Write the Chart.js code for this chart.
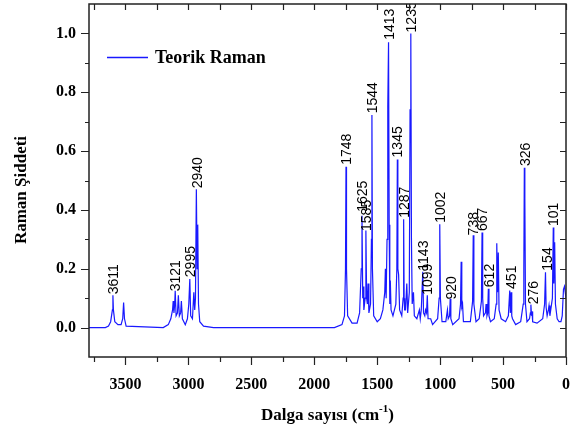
<!DOCTYPE html>
<html>
<head>
<meta charset="utf-8">
<script src="https://cdn.jsdelivr.net/npm/chart.js@4/dist/chart.umd.min.js"></script>
<style>
    html, body { margin: 0; padding: 0; background: #fff; }
    #spectrum { display: block; }
</style>
</head>
<body>
<canvas id="spectrum" width="572" height="427"></canvas>
<script>
    // Spectrum: wavenumber (cm-1) and relative Raman intensity.
    const wavenumber = [
        3790, 3660, 3635, 3618, 3604, 3600, 3596, 3585, 3560, 3535, 3522, 3515, 3508, 3495,
        3200, 3160, 3140, 3126, 3121, 3115, 3109, 3105, 3098, 3087, 3080, 3072, 3062, 3056, 3048, 3025,
        3008, 2997, 2989, 2982, 2968, 2957, 2950, 2944, 2937, 2931, 2926, 2920, 2910, 2880, 2800,
        1840, 1780, 1760, 1752, 1748, 1744, 1735, 1700,
        1660, 1640, 1627, 1621, 1615, 1611, 1606, 1596, 1590, 1584, 1578, 1573, 1566, 1553, 1546, 1542, 1538, 1528,
        1500, 1475, 1455, 1440, 1435, 1429, 1422, 1416, 1410, 1405, 1400, 1396, 1390, 1375,
        1352, 1344, 1340, 1336, 1330, 1322, 1305, 1294, 1290, 1286, 1282, 1275, 1265, 1258,
        1245, 1239, 1233, 1228, 1222, 1212, 1205, 1185, 1165, 1158, 1150, 1138, 1132, 1122, 1116,
        1108, 1102, 1096, 1075, 1060,
        1020, 1008, 1003, 998, 985, 955, 942, 936, 925, 920, 915, 900,
        850, 838, 833, 828, 822, 815, 760, 742, 737, 732, 715, 690, 672, 667, 662, 655,
        640, 635, 628, 622, 617, 612, 600, 570, 555, 550, 544, 538, 532, 515,
        480, 458, 447, 442, 436, 431, 425, 400, 360, 340, 335, 331, 327, 322, 310,
        290, 283, 279, 274, 270, 265, 230, 185, 170, 163, 158, 150, 140, 135, 128,
        108, 101, 97, 90, 84, 70, 55, 40, 30, 20, 12, 0
    ];
    const intensity = [
        0.0, 0.0, 0.005, 0.02, 0.06, 0.11, 0.06, 0.02, 0.01, 0.01, 0.03, 0.085, 0.03, 0.005,
        0.0, 0.01, 0.03, 0.06, 0.09, 0.05, 0.08, 0.125, 0.04, 0.05, 0.11, 0.04, 0.05, 0.09, 0.03, 0.01,
        0.03, 0.08, 0.165, 0.04, 0.03, 0.12, 0.06, 0.1, 0.47, 0.2, 0.35, 0.08, 0.02, 0.005, 0.0,
        0.0, 0.01, 0.04, 0.2, 0.547, 0.2, 0.04, 0.015,
        0.015, 0.05, 0.2, 0.38, 0.1, 0.14, 0.06, 0.1, 0.33, 0.1, 0.08, 0.15, 0.05, 0.08, 0.3, 0.723, 0.2, 0.04,
        0.02, 0.03, 0.06, 0.12, 0.2, 0.1, 0.3, 0.75, 0.97, 0.35, 0.08, 0.16, 0.06, 0.04,
        0.08, 0.2, 0.571, 0.2, 0.18, 0.06, 0.04, 0.1, 0.368, 0.1, 0.06, 0.06, 0.15, 0.05,
        0.12, 0.74, 1.0, 0.3, 0.08, 0.12, 0.04, 0.03, 0.06, 0.03, 0.06, 0.19, 0.05, 0.04, 0.06,
        0.05, 0.11, 0.03, 0.03, 0.01,
        0.03, 0.1, 0.351, 0.1, 0.02, 0.02, 0.06, 0.03, 0.04, 0.098, 0.03, 0.01,
        0.03, 0.08, 0.224, 0.07, 0.08, 0.02, 0.02, 0.09, 0.314, 0.08, 0.02, 0.03, 0.09, 0.323, 0.1, 0.04,
        0.05, 0.08, 0.04, 0.05, 0.132, 0.04, 0.02, 0.03, 0.08, 0.287, 0.12, 0.255, 0.06, 0.03,
        0.02, 0.04, 0.126, 0.05, 0.12, 0.04, 0.03, 0.01, 0.02, 0.08, 0.2, 0.543, 0.44, 0.08, 0.02,
        0.03, 0.05, 0.078, 0.04, 0.055, 0.02, 0.015, 0.03, 0.08, 0.188, 0.07, 0.04, 0.06, 0.075, 0.04,
        0.1, 0.34, 0.15, 0.29, 0.08, 0.03, 0.02, 0.02, 0.04, 0.13, 0.14, 0.1
    ];

    // Peak annotations: text, where it sits (cm-1) and the intensity its foot rests on.
    const peakLabelText = ['3611', '3121', '2995', '2940', '1748', '1625', '1585', '1544', '1413', '1345',
        '1287', '1235', '1143', '1099', '1002', '920', '738', '667', '612', '451', '326', '276', '154', '101'];
    const peakLabelWn = [3598, 3103, 2988, 2933, 1746, 1619, 1590, 1540, 1406, 1341,
        1286, 1231, 1135, 1103, 1000, 913, 738, 669, 611, 440, 325, 266, 151, 100];
    const peakLabelAt = [0.11, 0.12, 0.168, 0.47, 0.55, 0.39, 0.325, 0.725, 0.975, 0.575,
        0.37, 1.0, 0.19, 0.108, 0.353, 0.092, 0.31, 0.325, 0.134, 0.128, 0.546, 0.076, 0.19, 0.342];

    const xMajorTicks = [3500, 3000, 2500, 2000, 1500, 1000, 500, 0];
    const xMinorTicks = [3750, 3250, 2750, 2250, 1750, 1250, 750, 250];
    const yMajorTicks = [0.0, 0.2, 0.4, 0.6, 0.8, 1.0];
    const yMinorTicks = [0.1, 0.3, 0.5, 0.7, 0.9];

    const seriesName = 'Teorik Raman';
    const xTitle = 'Dalga sayısı (cm';
    const xTitleSup = '-1';
    const yTitle = 'Raman Şiddeti';

    const LINE_BLUE = 'rgb(25, 25, 255)';
    const SERIF = '"Liberation Serif", "Times New Roman", serif';
    const SANS = '"Liberation Sans", Arial, sans-serif';

    // Axes frame, ticks, titles, legend and peak labels, all positioned through the chart's scales.
    const decorations = {
        id: 'decorations',
        afterDatasetsDraw(chart) {
            const ctx = chart.ctx;
            const xs = chart.scales.x;
            const ys = chart.scales.y;
            const area = chart.chartArea;
            ctx.save();
            ctx.beginPath();
            ctx.rect(area.left, area.top, area.right - area.left, area.bottom - area.top);
            ctx.clip();
            ctx.fillStyle = '#000';
            ctx.font = '14px ' + SANS;
            ctx.textAlign = 'left';
            ctx.textBaseline = 'alphabetic';
            peakLabelText.forEach(function (t, i) {
                const px = xs.getPixelForValue(peakLabelWn[i]);
                const py = ys.getPixelForValue(peakLabelAt[i]);
                ctx.save();
                ctx.translate(px + 5, py - 1);
                ctx.rotate(-Math.PI / 2);
                ctx.fillText(t, 0, 0);
                ctx.restore();
            });
            ctx.restore();
        },
        afterDraw(chart) {
            const ctx = chart.ctx;
            const xs = chart.scales.x;
            const ys = chart.scales.y;
            const a = chart.chartArea;
            ctx.save();
            ctx.strokeStyle = '#222';
            ctx.lineWidth = 1.5;
            ctx.strokeRect(a.left, a.top, a.right - a.left, a.bottom - a.top);

            ctx.lineWidth = 1.2;
            ctx.beginPath();
            xMajorTicks.forEach(function (v) {
                const px = Math.round(xs.getPixelForValue(v)) + 0.5;
                ctx.moveTo(px, a.bottom); ctx.lineTo(px, a.bottom + 8);
                ctx.moveTo(px, a.top); ctx.lineTo(px, a.top + 6);
            });
            xMinorTicks.forEach(function (v) {
                const px = Math.round(xs.getPixelForValue(v)) + 0.5;
                ctx.moveTo(px, a.bottom); ctx.lineTo(px, a.bottom + 5);
                ctx.moveTo(px, a.top); ctx.lineTo(px, a.top + 6);
            });
            yMajorTicks.forEach(function (v) {
                const py = Math.round(ys.getPixelForValue(v)) + 0.5;
                ctx.moveTo(a.left, py); ctx.lineTo(a.left - 8, py);
                ctx.moveTo(a.right, py); ctx.lineTo(a.right - 6, py);
            });
            yMinorTicks.forEach(function (v) {
                const py = Math.round(ys.getPixelForValue(v)) + 0.5;
                ctx.moveTo(a.left, py); ctx.lineTo(a.left - 4, py);
                ctx.moveTo(a.right, py); ctx.lineTo(a.right - 6, py);
            });
            ctx.stroke();

            ctx.fillStyle = '#000';
            ctx.font = 'bold 16px ' + SERIF;
            ctx.textAlign = 'center';
            ctx.textBaseline = 'alphabetic';
            xMajorTicks.forEach(function (v) {
                ctx.fillText(String(v), xs.getPixelForValue(v), 389);
            });
            ctx.textAlign = 'right';
            ctx.textBaseline = 'middle';
            yMajorTicks.forEach(function (v) {
                ctx.fillText(v.toFixed(1), 76, ys.getPixelForValue(v));
            });

            // x title with superscript
            ctx.font = 'bold 17px ' + SERIF;
            ctx.textBaseline = 'alphabetic';
            ctx.textAlign = 'left';
            const w1 = ctx.measureText(xTitle).width;
            ctx.font = 'bold 11px ' + SERIF;
            const w2 = ctx.measureText(xTitleSup).width;
            ctx.font = 'bold 17px ' + SERIF;
            const w3 = ctx.measureText(')').width;
            const cx = (a.left + a.right) / 2;
            let tx = cx - (w1 + w2 + w3) / 2;
            ctx.fillText(xTitle, tx, 420);
            tx += w1;
            ctx.font = 'bold 11px ' + SERIF;
            ctx.fillText(xTitleSup, tx, 412);
            tx += w2;
            ctx.font = 'bold 17px ' + SERIF;
            ctx.fillText(')', tx, 420);

            // y title
            ctx.save();
            ctx.translate(22, 190);
            ctx.rotate(-Math.PI / 2);
            ctx.textAlign = 'center';
            ctx.textBaseline = 'middle';
            ctx.fillText(yTitle, 0, 0);
            ctx.restore();

            // legend
            ctx.strokeStyle = LINE_BLUE;
            ctx.lineWidth = 1.5;
            ctx.beginPath();
            ctx.moveTo(107, 57.5); ctx.lineTo(148, 57.5);
            ctx.stroke();
            ctx.font = 'bold 18px ' + SERIF;
            ctx.textAlign = 'left';
            ctx.textBaseline = 'middle';
            ctx.fillText(seriesName, 155, 58);
            ctx.restore();
        }
    };

    new Chart(document.getElementById('spectrum'), {
        type: 'line',
        data: {
            datasets: [{
                label: seriesName,
                data: wavenumber.map(function (w, i) {
                    return { x: w, y: intensity[i] };
                }),
                borderColor: LINE_BLUE,
                borderWidth: 1.2,
                pointRadius: 0,
                tension: 0,
                fill: false,
            }],
        },
        options: {
            responsive: false,
            animation: false,
            devicePixelRatio: 1,
            layout: { padding: { left: 89, right: 6, top: 4, bottom: 70 } },
            plugins: { legend: { display: false }, tooltip: { enabled: false } },
            scales: {
                x: { type: 'linear', reverse: true, min: 0, max: 3790, display: false },
                y: { type: 'linear', min: -0.1, max: 1.1, display: false },
            },
        },
        plugins: [decorations],
    });
</script>
</body>
</html>
